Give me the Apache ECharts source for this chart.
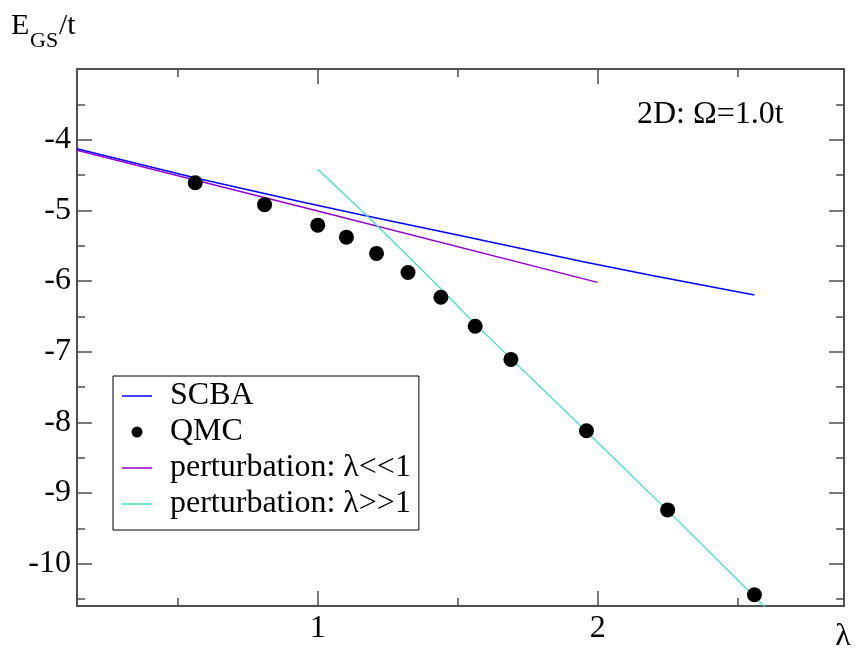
<!DOCTYPE html>
<html>
<head>
<meta charset="utf-8">
<script src="https://cdn.jsdelivr.net/npm/echarts@6/dist/echarts.min.js"></script>
<style>
  html, body { margin: 0; padding: 0; background: #fff; }
  #chart { width: 858px; height: 651px; }
</style>
</head>
<body>
<div id="chart"></div>
<script>
// axis ranges and ticks
const X_MIN = 0.14, X_MAX = 2.88;
const Y_MIN = -10.6, Y_MAX = -3;
const xMajor = [1, 2];
const xMinor = [0.5, 1.5, 2.5];
const yMajor = [-10, -9, -8, -7, -6, -5, -4];
const yMinor = [-10.5, -9.5, -8.5, -7.5, -6.5, -5.5, -4.5, -3.5];

// SCBA curve (blue)
const scbaLambda = [0.14, 0.56, 0.94, 1.15, 1.5, 1.94, 2.19, 2.56];
const scbaE = [-4.13, -4.54, -4.88, -5.06, -5.35, -5.72, -5.92, -6.2];

// QMC points (lambda = 0.75^2 ... 1.6^2)
const qmcLambda = [0.5625, 0.81, 1.0, 1.1025, 1.21, 1.3225, 1.44, 1.5625, 1.69, 1.96, 2.25, 2.56];
const qmcE = [-4.61, -4.92, -5.21, -5.38, -5.61, -5.88, -6.23, -6.64, -7.11, -8.12, -9.24, -10.44];

// perturbation, small lambda (violet)
const pertSmallLambda = [0.14, 1.0, 2.0];
const pertSmallE = [-4.15, -5.01, -6.02];

// perturbation, large lambda (turquoise)
const pertLargeLambda = [1.0, 1.18, 1.44, 1.56, 1.96, 2.25, 2.62];
const pertLargeE = [-4.42, -5.09, -6.11, -6.6, -8.13, -9.25, -10.7];

const FONT = "Liberation Serif";
const AXIS_COLOR = "#505050";

const zip = (xs, ys) => xs.map((x, i) => [x, ys[i]]);

// one axis per side for major ticks (with line), one for minor ticks
const makeAxis = (dim, position, ticks, len, main, labels) => ({
  type: "value",
  position,
  min: dim === "x" ? X_MIN : Y_MIN,
  max: dim === "x" ? X_MAX : Y_MAX,
  axisLine: { show: main, onZero: false, lineStyle: { color: AXIS_COLOR, width: 2 } },
  axisTick: {
    show: true,
    inside: true,
    length: len,
    customValues: ticks,
    lineStyle: { color: AXIS_COLOR, width: 1.5 },
  },
  axisLabel: labels
    ? {
        show: true,
        customValues: labels,
        margin: dim === "x" ? 7 : 6,
        fontFamily: FONT,
        fontSize: 32,
        color: "#000",
      }
    : { show: false },
  splitLine: { show: false },
});

const chart = echarts.init(document.getElementById("chart"));

const lineIcon = "path://M0,0H30V1.5H0Z";

chart.setOption({
  animation: false,
  backgroundColor: "#fff",
  grid: { left: 77, right: 14, top: 69, bottom: 45, containLabel: false },
  xAxis: [
    makeAxis("x", "bottom", xMajor, 15, true, xMajor),
    makeAxis("x", "bottom", xMinor, 8, false, null),
    makeAxis("x", "top", xMajor, 15, true, null),
    makeAxis("x", "top", xMinor, 8, false, null),
  ],
  yAxis: [
    makeAxis("y", "left", yMajor, 15, true, yMajor),
    makeAxis("y", "left", yMinor, 8, false, null),
    makeAxis("y", "right", yMajor, 15, true, null),
    makeAxis("y", "right", yMinor, 8, false, null),
  ],
  legend: {
    orient: "vertical",
    left: 113,
    top: 376,
    backgroundColor: "#fff",
    borderColor: "#000",
    borderWidth: 1,
    borderRadius: 0,
    padding: [4, 8, 10, 9],
    itemGap: 4,
    itemWidth: 30,
    itemHeight: 11,
    itemStyle: { borderWidth: 0 },
    selectedMode: false,
    textStyle: { fontFamily: FONT, fontSize: 32, color: "#000", padding: [0, 0, 0, 13] },
    data: [
      { name: "SCBA", icon: lineIcon },
      { name: "QMC", icon: "circle" },
      { name: "perturbation: λ<<1", icon: lineIcon },
      { name: "perturbation: λ>>1", icon: lineIcon },
    ],
  },
  series: [
    {
      name: "SCBA",
      type: "line",
      data: zip(scbaLambda, scbaE),
      showSymbol: false,
      symbol: "none",
      color: "#0000ff",
      lineStyle: { width: 1.5, color: "#0000ff" },
      z: 2,
    },
    {
      name: "perturbation: λ<<1",
      type: "line",
      data: zip(pertSmallLambda, pertSmallE),
      showSymbol: false,
      symbol: "none",
      color: "#9400d3",
      lineStyle: { width: 1.5, color: "#9400d3" },
      z: 2,
    },
    {
      name: "perturbation: λ>>1",
      type: "line",
      data: zip(pertLargeLambda, pertLargeE),
      showSymbol: false,
      symbol: "none",
      color: "#40e0d0",
      lineStyle: { width: 1.3, color: "#40e0d0" },
      clip: true,
      z: 2,
    },
    {
      name: "QMC",
      type: "scatter",
      data: zip(qmcLambda, qmcE),
      symbol: "circle",
      symbolSize: 15,
      color: "#000",
      itemStyle: { color: "#000", opacity: 1 },
      z: 4,
    },
  ],
  graphic: [
    { type: "text", x: 11, y: 26, style: { text: "E", font: "30px 'Liberation Serif'", fill: "#000", verticalAlign: "middle" } },
    { type: "text", x: 30, y: 41, style: { text: "GS", font: "22px 'Liberation Serif'", fill: "#000", verticalAlign: "middle" } },
    { type: "text", x: 59, y: 26, style: { text: "/t", font: "30px 'Liberation Serif'", fill: "#000", verticalAlign: "middle" } },
    { type: "text", x: 637, y: 115, style: { text: "2D: Ω=1.0t", font: "32px 'Liberation Serif'", fill: "#000", verticalAlign: "middle" } },
    { type: "text", x: 843, y: 637, style: { text: "λ", font: "32px 'Liberation Serif'", fill: "#000", align: "center", verticalAlign: "middle" } },
  ],
});
</script>
</body>
</html>
